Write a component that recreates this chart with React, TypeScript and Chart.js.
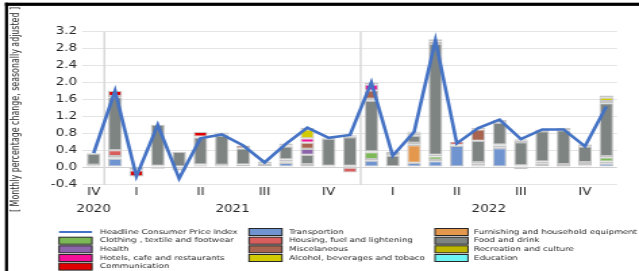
import React, { useEffect, useRef } from 'react';
import { Chart, registerables } from 'chart.js';
Chart.register(...registerables);

// ---------- data ----------
const months = [
  'Dec 2020',
  'Jan 2021', 'Feb 2021', 'Mar 2021', 'Apr 2021', 'May 2021', 'Jun 2021',
  'Jul 2021', 'Aug 2021', 'Sep 2021', 'Oct 2021', 'Nov 2021', 'Dec 2021',
  'Jan 2022', 'Feb 2022', 'Mar 2022', 'Apr 2022', 'May 2022', 'Jun 2022',
  'Jul 2022', 'Aug 2022', 'Sep 2022', 'Oct 2022', 'Nov 2022', 'Dec 2022',
];
const quarterTicks = ['IV', '', 'I', '', '', 'II', '', '', 'III', '', '', 'IV', '', '', 'I', '', '', 'II', '', '', 'III', '', '', 'IV', ''];

const headline = [0.33, 1.80, -0.22, 1.00, -0.27, 0.68, 0.77, 0.51, 0.11, 0.55, 0.93, 0.69, 0.76, 2.00, 0.27, 0.83, 3.00, 0.56, 0.92, 1.12, 0.66, 0.89, 0.89, 0.49, 1.43];
const transport = [0.03, 0.20, 0, 0, 0, 0.03, 0.03, 0.02, 0, 0.10, 0, 0, 0.01, 0.15, 0, 0.10, 0.14, 0.50, 0.03, 0.45, 0.01, 0.02, 0.01, 0.02, 0.08];
const furnishing = [0, 0.02, 0, 0, 0, 0, 0, 0, 0, 0.02, 0, 0, 0, 0.04, 0, 0.42, 0.03, 0, 0.04, 0.02, -0.05, 0.03, 0.01, 0.02, 0.05];
const clothing = [0, 0.04, 0, -0.04, 0, 0, 0, 0, 0, 0.02, 0.05, 0.03, 0.02, 0.16, 0, 0.02, 0.08, 0, 0.02, 0.04, 0.01, 0.03, 0.03, 0.03, 0.10];
const housing = [0.02, 0.14, -0.05, 0.03, -0.04, 0.03, 0.02, 0.04, 0.02, 0.04, 0.02, 0, -0.13, 0.02, 0.02, 0.03, 0.04, 0.01, 0.03, 0.02, 0.02, 0.05, 0.02, 0.05, 0.03];
const food = [0.27, 1.25, 0, 0.97, 0.36, 0.64, 0.70, 0.38, 0.05, 0.31, 0.22, 0.64, 0.68, 1.20, 0.25, 0.17, 2.62, 0, 0.50, 0.52, 0.55, 0.72, 0.80, 0.37, 1.25];
const health = [0, 0, 0, 0, 0, 0, 0, 0, 0, 0, 0.14, 0, 0, 0.04, 0, 0, 0, 0, 0, 0, 0, 0, 0, 0, 0];
const misc = [0.02, 0.03, -0.03, 0, -0.04, 0.02, 0, 0.07, 0.02, 0.02, 0.15, 0.02, 0.02, 0.20, 0.04, 0.05, 0.06, 0.02, 0.27, 0.04, 0.03, 0.04, 0.03, 0.04, 0.03];
const recreation = [0, 0, 0, 0, 0, 0, 0.02, 0, 0, 0, 0, 0, 0, 0, 0, 0.02, 0, 0, 0, 0, 0, 0, 0, 0, 0.02];
const hotels = [0, 0, 0, 0, 0, 0, 0, 0, 0, 0, 0.10, 0, 0, 0.14, 0, 0, 0, 0, 0, 0, 0, 0, 0, 0, 0];
const alcohol = [0, 0, 0, 0, 0, 0, 0.02, 0, 0, 0, 0.21, 0, 0, 0, 0, 0.02, 0, 0, 0, 0, 0, 0, 0, 0, 0.08];
const education = [0, 0, 0, 0, 0, 0, 0, 0, 0, 0, 0, 0, 0, 0, 0, 0, 0, 0, 0, 0, 0, 0, 0, 0, 0];
const communication = [0, 0.12, -0.14, 0, 0, 0.11, 0.03, 0, 0.04, 0.05, 0.04, 0, 0.02, 0.04, 0.05, 0.01, 0.05, 0.07, 0.04, 0.02, 0.04, 0, 0.03, 0.01, 0.05];

const barSeries = [
  { label: 'Transportion', data: transport, color: '#7094D0' },
  { label: 'Furnishing and household equipment', data: furnishing, color: '#E3984E' },
  { label: 'Clothing , textile and footwear', data: clothing, color: '#7DB856' },
  { label: 'Housing, fuel and lightening', data: housing, color: '#D95F5F' },
  { label: 'Food and drink', data: food, color: '#7E8482' },
  { label: 'Health', data: health, color: '#8C64AA' },
  { label: 'Miscelaneous', data: misc, color: '#A8644F' },
  { label: 'Recreation and culture', data: recreation, color: '#BDB700' },
  { label: 'Hotels, cafe and restaurants', data: hotels, color: '#F5109A' },
  { label: 'Alcohol, beverages and tobaco', data: alcohol, color: '#D2CA00' },
  { label: 'Education', data: education, color: '#6CF3F3' },
  { label: 'Communication', data: communication, color: '#E00000' },
];
const headlineLabel = 'Headline Consumer Price Index';
const axisTitle = '[ Monthly percentage change, seasonally adjusted ]';

// ---------- geometry (internal canvas is stretched horizontally) ----------
const CSS_W = 639;
const H = 271;
const W = 473;
const SX = CSS_W / W;
const FONT = '"DejaVu Sans", Verdana, sans-serif';
const TEXT = '#262626';

const decorPlugin = {
  id: 'decor',
  beforeDraw(chart: any) {
    const { ctx } = chart;
    ctx.save();
    ctx.fillStyle = '#ffffff';
    ctx.fillRect(0, 0, chart.width, chart.height);
    ctx.restore();
  },
  beforeDatasetsDraw(chart: any) {
    const { ctx, chartArea } = chart;
    const x = chart.scales.x;
    ctx.save();
    ctx.strokeStyle = '#D9D9D9';
    ctx.lineWidth = 1.5;
    for (let i = 1; i < months.length; i++) {
      if (months[i].slice(-4) !== months[i - 1].slice(-4)) {
        const px = x.getPixelForValue(i - 0.5);
        ctx.beginPath();
        ctx.moveTo(px, chartArea.top);
        ctx.lineTo(px, chartArea.bottom + 1);
        ctx.stroke();
      }
    }
    ctx.restore();
  },
  afterDraw(chart: any) {
    const { ctx } = chart;
    const x = chart.scales.x;
    ctx.save();
    // year labels
    const years: string[] = [];
    months.forEach((m) => { const y = m.slice(-4); if (!years.includes(y)) years.push(y); });
    ctx.fillStyle = TEXT;
    ctx.font = `10px ${FONT}`;
    ctx.textAlign = 'center';
    ctx.textBaseline = 'middle';
    years.forEach((y) => {
      const idx = months.map((m, i) => (m.slice(-4) === y ? i : -1)).filter((i) => i >= 0);
      const c = (idx[0] + idx[idx.length - 1]) / 2;
      ctx.fillText(y, x.getPixelForValue(c), 209);
    });

    // rotated axis title, condensed to span its length
    ctx.save();
    ctx.translate(16 / SX, 109.5);
    ctx.rotate(-Math.PI / 2);
    ctx.font = `9px ${FONT}`;
    const tw = ctx.measureText(axisTitle).width;
    ctx.scale(205 / tw, 1);
    ctx.fillStyle = TEXT;
    ctx.textAlign = 'center';
    ctx.textBaseline = 'middle';
    ctx.fillText(axisTitle, 0, 0);
    ctx.restore();

    // black frame (top + left)
    ctx.fillStyle = '#000000';
    ctx.fillRect(5 / SX, 2.7, chart.width, 3.2);
    ctx.fillRect(5 / SX, 2.7, 3 / SX, chart.height);

    // legend
    const colSwatch = [59 / SX, 249 / SX, 435 / SX];
    const colText = [100 / SX, 289 / SX, 474 / SX];
    const rowY = [232, 240.7, 249.3, 258, 266.6];
    const swW = 33 / SX;
    const swH = 7;
    const items = chart.data.datasets.map((d: any) => ({ label: d.label, type: d.type, color: d.type === 'line' ? d.borderColor : d.backgroundColor }));
    ctx.font = `6.5px ${FONT}`;
    ctx.textAlign = 'left';
    ctx.textBaseline = 'middle';
    items.forEach((it: any, i: number) => {
      const col = i % 3;
      const row = Math.floor(i / 3);
      const sx = colSwatch[col];
      const cy = rowY[row];
      if (it.type === 'line') {
        ctx.strokeStyle = it.color;
        ctx.lineWidth = 2;
        ctx.beginPath();
        ctx.moveTo(sx, cy);
        ctx.lineTo(sx + swW, cy);
        ctx.stroke();
      } else {
        ctx.fillStyle = it.color;
        ctx.fillRect(sx, cy - swH / 2, swW, swH);
        ctx.strokeStyle = '#262626';
        ctx.lineWidth = 1;
        ctx.strokeRect(sx, cy - swH / 2, swW, swH);
      }
      ctx.fillStyle = TEXT;
      ctx.fillText(it.label, colText[col], cy);
    });
    ctx.restore();
  },
};

export default function App() {
  const ref = useRef<HTMLCanvasElement | null>(null);

  useEffect(() => {
    document.body.style.margin = '0';
    const canvas = ref.current;
    if (!canvas) return;
    Chart.defaults.font.family = FONT;

    const datasets: any[] = [
      {
        type: 'line',
        label: headlineLabel,
        data: headline,
        borderColor: '#4472C4',
        backgroundColor: '#4472C4',
        borderWidth: 2.6,
        pointRadius: 0,
        tension: 0,
        fill: false,
        order: 0,
        stack: 'headline',
      },
      ...barSeries.map((s) => ({
        type: 'bar',
        label: s.label,
        data: s.data,
        backgroundColor: s.color,
        borderColor: '#C6C6C6',
        borderWidth: 1.1,
        borderSkipped: false,
        barPercentage: 0.65,
        categoryPercentage: 1,
        order: 1,
        stack: 'contrib',
      })),
    ];

    const chart = new Chart(canvas, {
      type: 'bar',
      data: { labels: months, datasets },
      plugins: [decorPlugin],
      options: {
        animation: false,
        responsive: false,
        maintainAspectRatio: false,
        devicePixelRatio: 1,
        layout: { padding: { left: 0, top: 31.7, right: W - 617 / SX, bottom: 67 } },
        plugins: { legend: { display: false }, tooltip: { enabled: false }, title: { display: false } },
        scales: {
          x: {
            stacked: true,
            offset: true,
            grid: { display: false, drawTicks: false },
            border: { display: false },
            ticks: {
              autoSkip: false,
              maxRotation: 0,
              padding: 2,
              color: TEXT,
              font: { size: 10, family: FONT },
              callback: (_v: any, i: number) => quarterTicks[i],
            },
            afterFit: (scale: any) => { scale.height = 20; },
          },
          y: {
            stacked: true,
            min: -0.4,
            max: 3.2,
            grid: {
              drawTicks: false,
              color: (c: any) => (c.tick && Math.abs(c.tick.value) < 1e-9 ? '#D0D0D0' : '#E4E4E4'),
              lineWidth: 1,
            },
            border: { display: false },
            ticks: {
              stepSize: 0.4,
              padding: 61.4 - 57,
              color: TEXT,
              font: { size: 10, family: FONT },
              callback: (v: any) => Number(v).toFixed(1),
            },
            afterFit: (scale: any) => { scale.width = 83 / SX; },
          },
        },
      } as any,
    });
    return () => chart.destroy();
  }, []);

  return (
    <div style={{ width: CSS_W, height: H, overflow: 'hidden' }}>
      <canvas ref={ref} width={W} height={H} style={{ width: `${CSS_W}px`, height: `${H}px`, display: 'block' }} />
    </div>
  );
}
